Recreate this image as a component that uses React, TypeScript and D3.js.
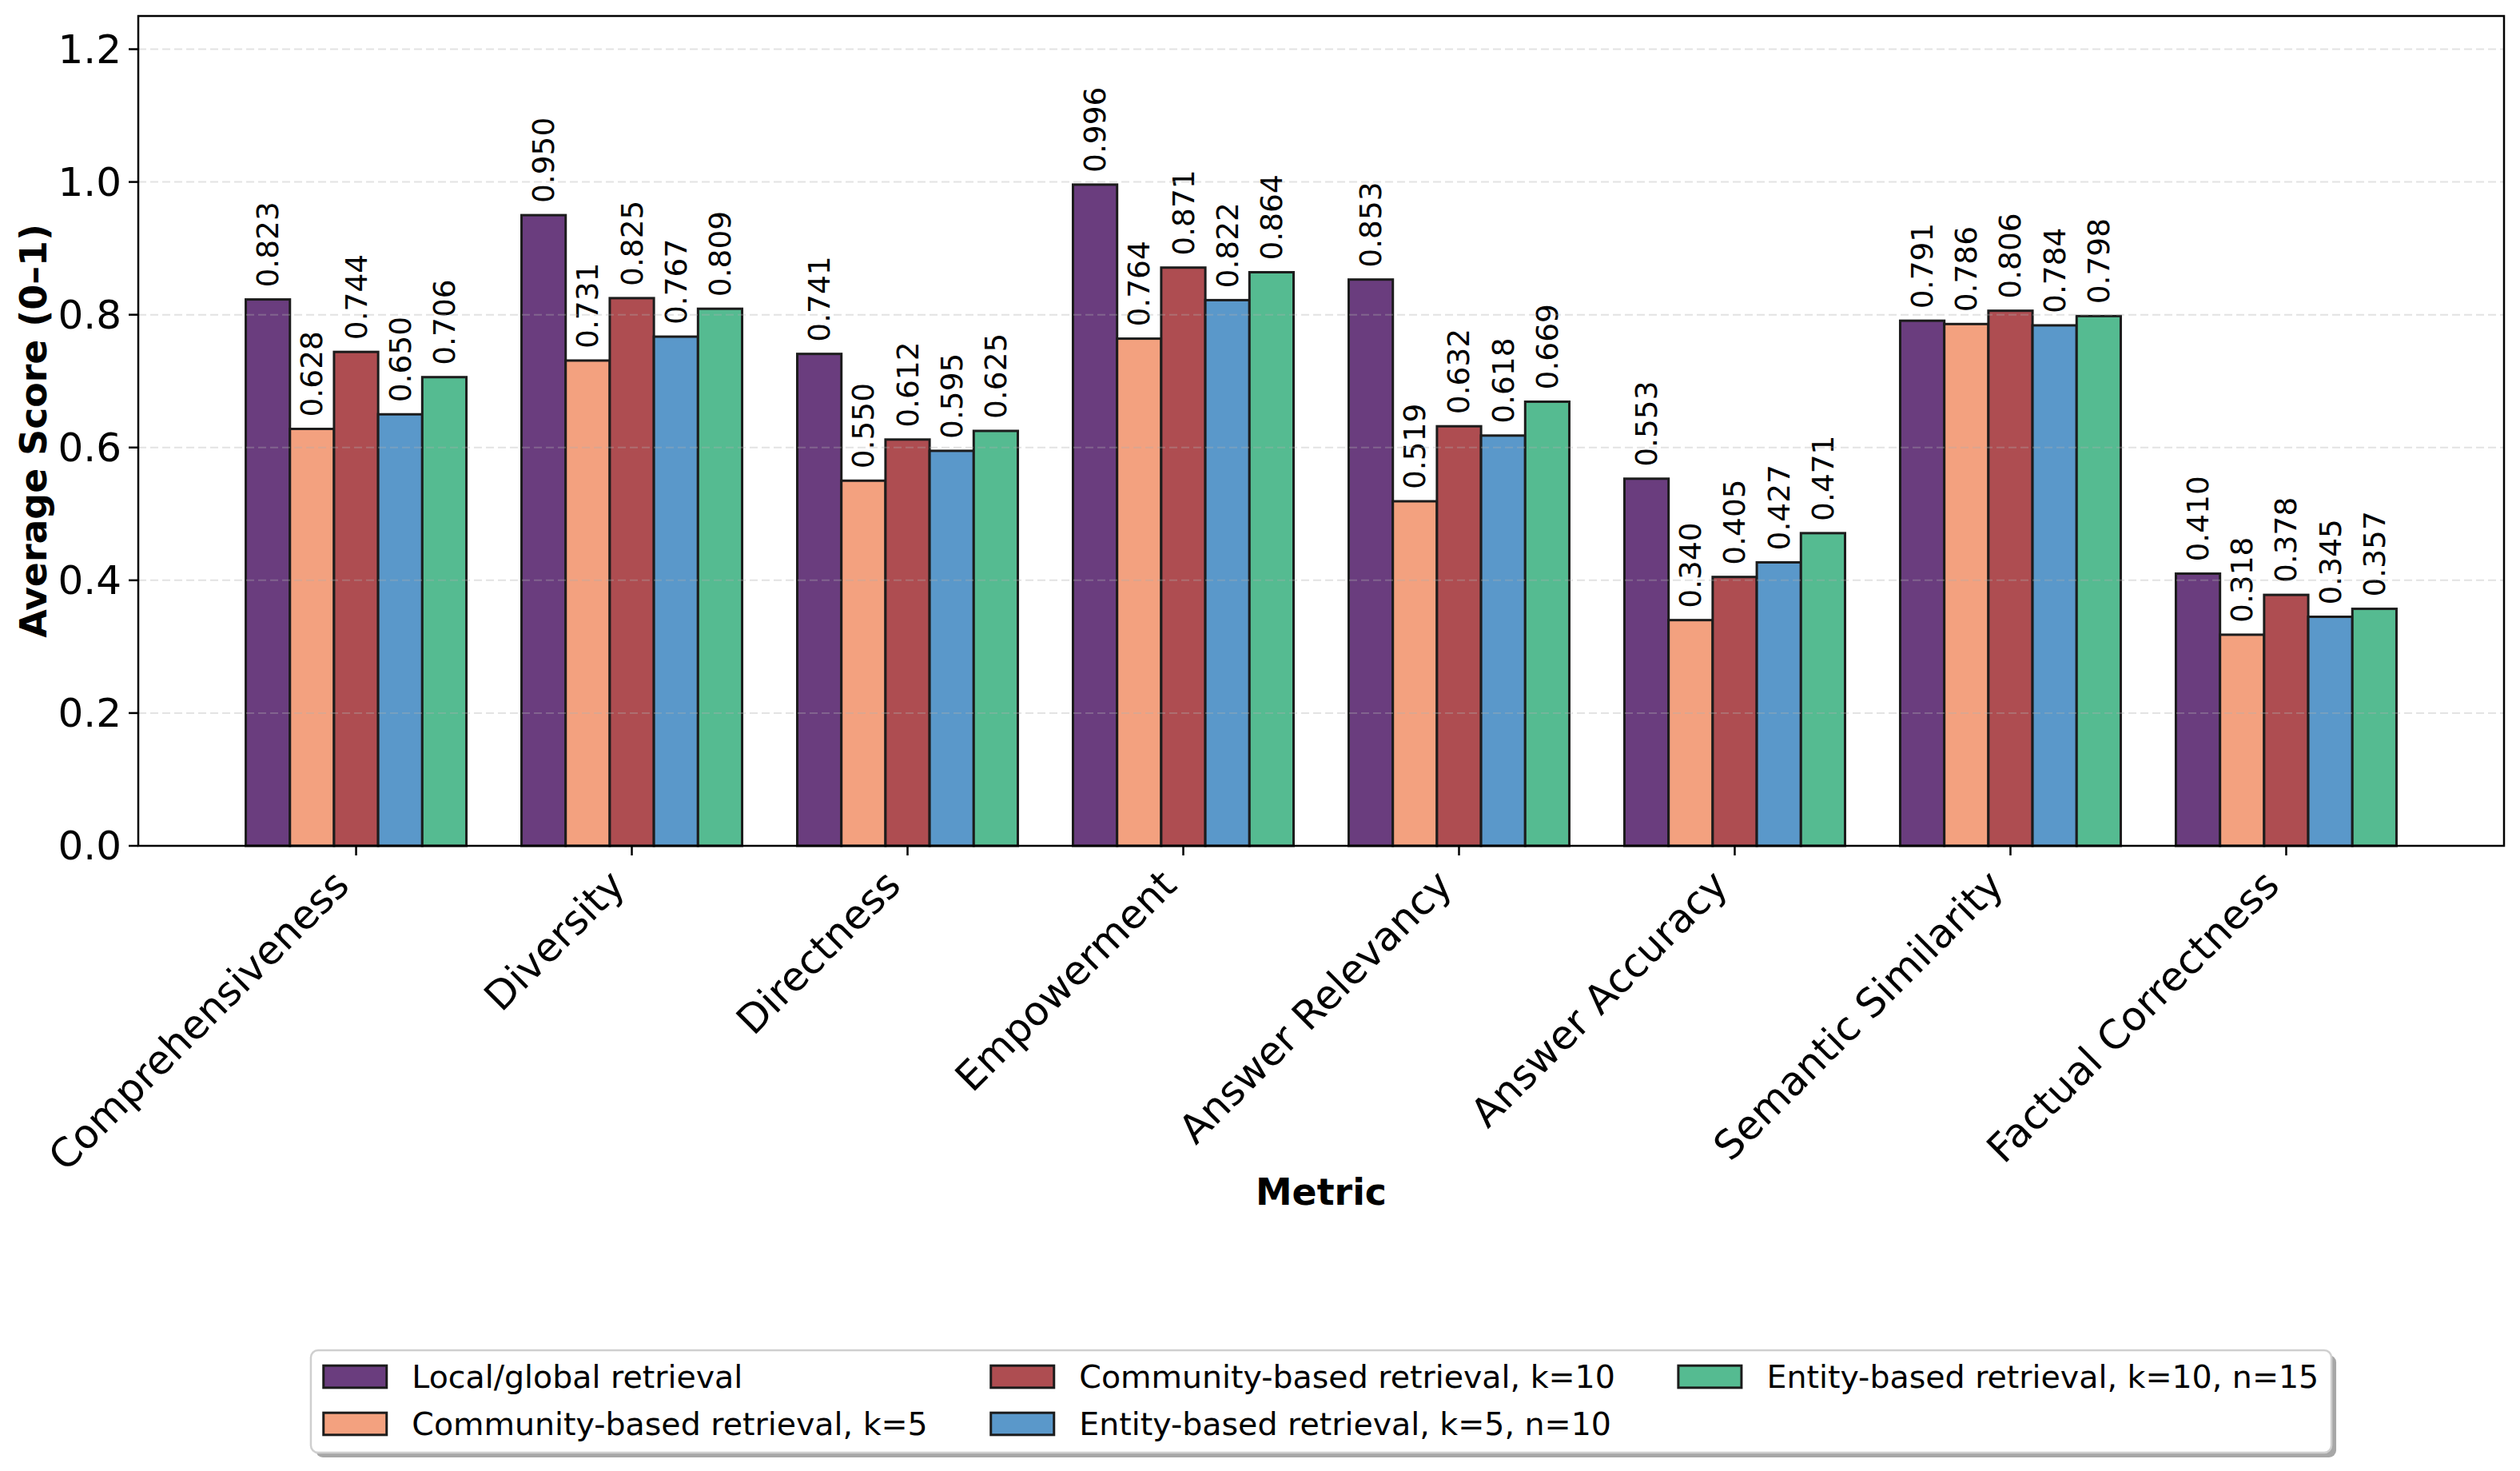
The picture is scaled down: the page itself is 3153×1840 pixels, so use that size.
import { useEffect, useRef } from 'react';
import * as d3 from 'd3';

const METRICS = [
  'Comprehensiveness',
  'Diversity',
  'Directness',
  'Empowerment',
  'Answer Relevancy',
  'Answer Accuracy',
  'Semantic Similarity',
  'Factual Correctness',
];

const SERIES = [
  'Local/global retrieval',
  'Community-based retrieval, k=5',
  'Community-based retrieval, k=10',
  'Entity-based retrieval, k=5, n=10',
  'Entity-based retrieval, k=10, n=15',
];

const LOCAL_GLOBAL = [0.823, 0.95, 0.741, 0.996, 0.853, 0.553, 0.791, 0.41];
const COMMUNITY_K5 = [0.628, 0.731, 0.55, 0.764, 0.519, 0.34, 0.786, 0.318];
const COMMUNITY_K10 = [0.744, 0.825, 0.612, 0.871, 0.632, 0.405, 0.806, 0.378];
const ENTITY_K5_N10 = [0.65, 0.767, 0.595, 0.822, 0.618, 0.427, 0.784, 0.345];
const ENTITY_K10_N15 = [0.706, 0.809, 0.625, 0.864, 0.669, 0.471, 0.798, 0.357];

const VALUES = [LOCAL_GLOBAL, COMMUNITY_K5, COMMUNITY_K10, ENTITY_K5_N10, ENTITY_K10_N15];

const Y_TICKS = [0, 0.2, 0.4, 0.6, 0.8, 1.0, 1.2];

const COLORS = ['#6a3d7e', '#f3a17f', '#ae4d51', '#5a98ca', '#55bb91'];

const W = 3153;
const H = 1840;
const FONT = '"DejaVu Sans", sans-serif';

export default function App() {
  const svgRef = useRef<SVGSVGElement>(null);

  useEffect(() => {
    document.body.style.margin = '0';
    document.body.style.overflow = 'hidden';
    if (!svgRef.current) return;

    const svg = d3.select(svgRef.current);
    svg.selectAll('*').remove();

    const plot = { left: 173, right: 3133, top: 20, bottom: 1058 };
    const nBars = SERIES.length;
    const barW = 0.16;

    const x = d3.scaleLinear().domain([-0.79, METRICS.length - 1 + 0.79]).range([plot.left, plot.right]);
    const y = d3.scaleLinear().domain([0, 1.25]).range([plot.bottom, plot.top]);

    svg.append('rect').attr('width', W).attr('height', H).attr('fill', '#fff');

    // bars
    VALUES.forEach((vals, s) => {
      const off = (s - (nBars - 1) / 2) * barW;
      svg.append('g')
        .selectAll('rect')
        .data(vals)
        .join('rect')
        .attr('x', (_, i) => x(i + off - barW / 2))
        .attr('y', (d) => y(d))
        .attr('width', x(barW) - x(0))
        .attr('height', (d) => y(0) - y(d))
        .attr('fill', COLORS[s])
        .attr('stroke', '#1c1c1c')
        .attr('stroke-width', 3);

      // value labels
      svg.append('g')
        .selectAll('text')
        .data(vals)
        .join('text')
        .attr('transform', (d, i) => `translate(${x(i + off)},${y(d) - 15}) rotate(-90)`)
        .attr('dominant-baseline', 'central')
        .attr('font-family', FONT)
        .attr('font-size', 37.5)
        .attr('fill', '#000')
        .text((d) => d.toFixed(3));
    });

    // grid (drawn over bars, faint)
    svg.append('g')
      .selectAll('line')
      .data(Y_TICKS)
      .join('line')
      .attr('x1', plot.left)
      .attr('x2', plot.right)
      .attr('y1', (d) => y(d))
      .attr('y2', (d) => y(d))
      .attr('stroke', '#b0b0b0')
      .attr('stroke-opacity', 0.35)
      .attr('stroke-width', 2)
      .attr('stroke-dasharray', '10,5');

    // frame
    svg.append('rect')
      .attr('x', plot.left)
      .attr('y', plot.top)
      .attr('width', plot.right - plot.left)
      .attr('height', plot.bottom - plot.top)
      .attr('fill', 'none')
      .attr('stroke', '#000')
      .attr('stroke-width', 2.5);

    // y ticks
    const yt = svg.append('g');
    Y_TICKS.forEach((t) => {
      yt.append('line')
        .attr('x1', plot.left - 12).attr('x2', plot.left)
        .attr('y1', y(t)).attr('y2', y(t))
        .attr('stroke', '#000').attr('stroke-width', 2.5);
      yt.append('text')
        .attr('x', plot.left - 21)
        .attr('y', y(t))
        .attr('text-anchor', 'end')
        .attr('dominant-baseline', 'central')
        .attr('font-family', FONT)
        .attr('font-size', 50)
        .text(t.toFixed(1));
    });

    // x ticks
    const xt = svg.append('g');
    METRICS.forEach((m, i) => {
      xt.append('line')
        .attr('x1', x(i)).attr('x2', x(i))
        .attr('y1', plot.bottom).attr('y2', plot.bottom + 12)
        .attr('stroke', '#000').attr('stroke-width', 2.5);
      xt.append('text')
        .attr('transform', `translate(${x(i) - 6},${plot.bottom + 52}) rotate(-45)`)
        .attr('text-anchor', 'end')
        .attr('font-family', FONT)
        .attr('font-size', 50)
        .text(m);
    });

    // axis titles
    svg.append('text')
      .attr('x', (plot.left + plot.right) / 2)
      .attr('y', 1507)
      .attr('text-anchor', 'middle')
      .attr('font-family', FONT)
      .attr('font-weight', 'bold')
      .attr('font-size', 45.8)
      .text('Metric');

    svg.append('text')
      .attr('transform', `translate(58,${(plot.top + plot.bottom) / 2}) rotate(-90)`)
      .attr('text-anchor', 'middle')
      .attr('font-family', FONT)
      .attr('font-weight', 'bold')
      .attr('font-size', 45.8)
      .text('Average Score (0\u20131)');

    // legend: 3 columns, filled column-wise
    const fs = 39.5;
    const ncol = 3;
    const nrow = Math.ceil(SERIES.length / ncol);
    const handleW = 2 * fs;
    const handleH = 0.7 * fs;
    const pad = 0.8 * fs;
    const colGap = 2 * fs;
    const border = 0.4 * fs;
    const rowY = [1722, 1781];

    const leg = svg.append('g');
    const measure = leg.append('text').attr('font-family', FONT).attr('font-size', fs);
    const widths = SERIES.map((s) => {
      measure.text(s);
      return (measure.node() as SVGTextElement).getComputedTextLength();
    });
    measure.remove();

    const colWidths: number[] = [];
    for (let c = 0; c < ncol; c++) {
      const items = SERIES.map((_, i) => i).filter((i) => Math.floor(i / nrow) === c);
      colWidths.push(handleW + pad + d3.max(items, (i) => widths[i])!);
    }
    const innerW = d3.sum(colWidths) + colGap * (ncol - 1);
    const boxW = innerW + 2 * border;
    const boxX = (plot.left + plot.right) / 2 - boxW / 2;
    const boxY = 1689;
    const boxH = 128;

    leg.append('rect')
      .attr('x', boxX + 6).attr('y', boxY + 6)
      .attr('width', boxW).attr('height', boxH)
      .attr('rx', 9)
      .attr('fill', '#8a8a8a').attr('opacity', 0.75);
    leg.append('rect')
      .attr('x', boxX).attr('y', boxY)
      .attr('width', boxW).attr('height', boxH)
      .attr('rx', 9)
      .attr('fill', '#fff')
      .attr('stroke', '#cfcfcf')
      .attr('stroke-width', 2.5);

    SERIES.forEach((s, i) => {
      const c = Math.floor(i / nrow);
      const r = i % nrow;
      const cx = boxX + border + d3.sum(colWidths.slice(0, c)) + colGap * c;
      const cy = rowY[r];
      leg.append('rect')
        .attr('x', cx).attr('y', cy - handleH / 2)
        .attr('width', handleW).attr('height', handleH)
        .attr('fill', COLORS[i])
        .attr('stroke', '#1c1c1c')
        .attr('stroke-width', 3);
      leg.append('text')
        .attr('x', cx + handleW + pad)
        .attr('y', cy)
        .attr('dominant-baseline', 'central')
        .attr('font-family', FONT)
        .attr('font-size', fs)
        .text(s);
    });
  }, []);

  return <svg ref={svgRef} width={W} height={H} style={{ display: 'block' }} />;
}
